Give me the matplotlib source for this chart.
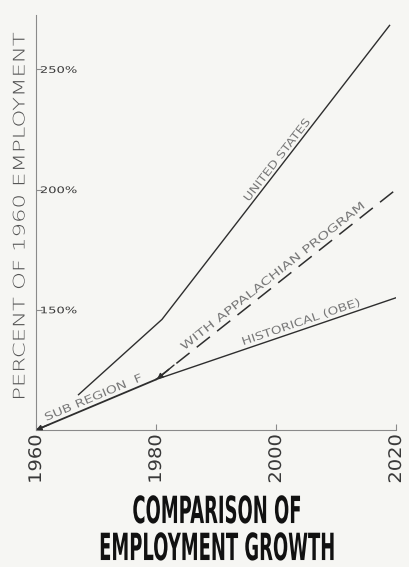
import numpy as np
import matplotlib
matplotlib.use("Agg")
import matplotlib.pyplot as plt
from matplotlib.patheffects import AbstractPathEffect
from matplotlib.transforms import Affine2D

# ---------------- data ----------------
years_x = [1960, 1980, 2000, 2020]
x_labels = ["1960", "1980", "2000", "2020"]
y_ticks = [150, 200, 250]
y_labels = ["150%", "200%", "250%"]

us_years = [1967, 1981, 2019]
us_pct = [114.5, 146, 268.5]

sub_years = [1960, 1980]
sub_pct = [100, 121]

hist_years = [1980, 2020]
hist_pct = [121, 155]

app_years = [1980, 2020]
app_pct = [121, 200]

title_lines = ["COMPARISON OF", "EMPLOYMENT GROWTH"]
ylabel = "PERCENT OF 1960 EMPLOYMENT"


class Stretch(AbstractPathEffect):
    """Scale a text path about its own centre along/across a given direction."""
    def __init__(self, sx=1.0, sy=1.0, angle=0.0):
        super().__init__()
        self.sx, self.sy, self.angle = sx, sy, angle

    def draw_path(self, renderer, gc, tpath, affine, rgbFace=None):
        bb = tpath.get_extents(affine)
        cx, cy = (bb.x0 + bb.x1) / 2, (bb.y0 + bb.y1) / 2
        aff = affine + (Affine2D().translate(-cx, -cy).rotate_deg(-self.angle)
                        .scale(self.sx, self.sy).rotate_deg(self.angle).translate(cx, cy))
        renderer.draw_path(gc, tpath, aff, rgbFace)


BG = "#f6f6f3"
fig = plt.figure(figsize=(4.09, 5.67), dpi=100, facecolor=BG)
ax = fig.add_axes([36 / 409, 1 - 430 / 567, 360 / 409, 415 / 567])
ax.set_facecolor(BG)
ax.set_xlim(1960, 2020)
ax.set_ylim(100, 272.6)

for s in ["top", "right"]:
    ax.spines[s].set_visible(False)
for s in ["left", "bottom"]:
    ax.spines[s].set_color("#8a8a8a")
    ax.spines[s].set_linewidth(0.8)

line_c = "#2e2e2e"
ax.plot(us_years, us_pct, color=line_c, lw=1.0, solid_capstyle="butt")
ax.plot(sub_years, sub_pct, color=line_c, lw=1.3)
ax.plot(hist_years, hist_pct, color=line_c, lw=1.0)
ax.plot(app_years, app_pct, color=line_c, lw=1.1, linestyle=(0, (11, 6)))

# arrowheads
ax.annotate("", xy=(sub_years[0], sub_pct[0]), xytext=(1962.2, 102.3),
            arrowprops=dict(arrowstyle="-|>", color=line_c, lw=1.0, mutation_scale=8,
                            shrinkA=0, shrinkB=0))
ax.annotate("", xy=(app_years[0] + 0.2, app_pct[0] + 0.2), xytext=(1983.0, 127.0),
            arrowprops=dict(arrowstyle="-|>", color=line_c, lw=1.0, mutation_scale=8,
                            shrinkA=0, shrinkB=0))

# ticks
ax.set_xticks(years_x)
ax.set_xticklabels(x_labels, rotation=90, fontsize=12.5, color="#3a3a3a")
ax.tick_params(axis="x", direction="in", length=4, width=0.8, color="#8a8a8a", pad=5)
for lab in ax.get_xticklabels():
    lab.set_path_effects([Stretch(1.0, 1.12)])

ax.set_yticks(y_ticks)
ax.set_yticklabels(y_labels, fontsize=6.5, color="#3a3a3a")
ax.tick_params(axis="y", direction="in", length=4, width=0.8, color="#8a8a8a", pad=-7)
for lab in ax.get_yticklabels():
    lab.set_ha("left")
    lab.set_path_effects([Stretch(1.45, 1.0)])

# y label
fig.text(20 / 409, 1 - 216 / 567, ylabel, rotation=90, ha="center", va="center",
         fontsize=11.5, color="#555555", fontweight="light",
         path_effects=[Stretch(1.0, 1.42)])

# line labels
lab_c = "#7a7a7a"

def line_label(text, xs, ys, xpos, off_px, along, size=6.5):
    slope = (ys[1] - ys[0]) / (xs[1] - xs[0])
    ypos = ys[0] + slope * (xpos - xs[0])
    p0 = ax.transData.transform((xs[0], ys[0]))
    p1 = ax.transData.transform((xs[1], ys[1]))
    ang = np.degrees(np.arctan2(p1[1] - p0[1], p1[0] - p0[0]))
    r = np.radians(ang)
    t = ax.annotate(text, xy=(xpos, ypos),
                    xytext=(-off_px * np.sin(r), off_px * np.cos(r)),
                    textcoords="offset pixels",
                    rotation=ang, rotation_mode="anchor",
                    ha="center", va="bottom", fontsize=size, color=lab_c)
    t.set_path_effects([Stretch(along, 1.2, ang)])
    return t

line_label("UNITED STATES", us_years[1:], us_pct[1:], 2001.0, 2, 1.45)
line_label("WITH APPALACHIAN PROGRAM", app_years, app_pct, 2000.3, 4, 1.68)
line_label("HISTORICAL (OBE)", hist_years, hist_pct, 2004.5, 3, 1.5)
line_label("SUB REGION  F", sub_years, sub_pct, 1970.0, 3, 1.55)

# title (condensed bold)
for txt, yp in zip(title_lines, [512, 549]):
    fig.text(217 / 409, 1 - yp / 567, txt, ha="center", va="center",
             fontsize=19, fontweight="bold", family="DejaVu Sans", color="#111111",
             path_effects=[Stretch(0.68, 1.42)])

fig.savefig("out.png", dpi=100, facecolor=BG)
